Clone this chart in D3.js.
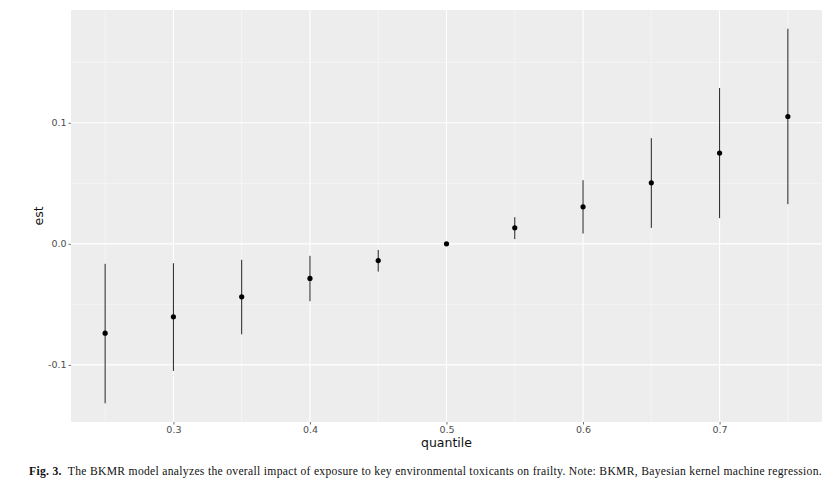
<html>
<head>
<script src="https://d3js.org/d3.v7.min.js"></script>
<style>
  body { margin: 0; background: #fff; }
</style>
</head>
<body>
<svg id="chart" width="838" height="485"></svg>
<script>
// values
const quantiles = [0.25, 0.30, 0.35, 0.40, 0.45, 0.50, 0.55, 0.60, 0.65, 0.70, 0.75];
const est       = [-0.0738, -0.0603, -0.0438, -0.0286, -0.0138, 0.0, 0.0132, 0.0306, 0.0504, 0.0750, 0.1052];
const lower     = [-0.1317, -0.1050, -0.0747, -0.0474, -0.0229, -0.0005, 0.0039, 0.0085, 0.0132, 0.0212, 0.0328];
const upper     = [-0.0165, -0.0160, -0.0132, -0.0099, -0.0050, 0.0005, 0.0220, 0.0526, 0.0873, 0.1287, 0.1777];
const xTicks = [0.3, 0.4, 0.5, 0.6, 0.7];
const yTicks = [-0.1, 0.0, 0.1];
const xMinor = [0.25, 0.35, 0.45, 0.55, 0.65, 0.75];
const yMinor = [-0.05, 0.05, 0.15];

const panel = {left: 71, top: 10, right: 822, bottom: 422};
const svg = d3.select("#chart");

// ggplot style 5% expansion
const xr = d3.extent(quantiles), xPad = (xr[1] - xr[0]) * 0.05;
const yr = [d3.min(lower), d3.max(upper)], yPad = (yr[1] - yr[0]) * 0.05;

const x = d3.scaleLinear().domain([xr[0] - xPad, xr[1] + xPad]).range([panel.left, panel.right]);
const y = d3.scaleLinear().domain([yr[0] - yPad, yr[1] + yPad]).range([panel.bottom, panel.top]);

svg.append("rect")
  .attr("x", panel.left).attr("y", panel.top)
  .attr("width", panel.right - panel.left).attr("height", panel.bottom - panel.top)
  .attr("fill", "#ededed");

const grid = svg.append("g");
grid.selectAll(".xm").data(xMinor).enter().append("line")
  .attr("x1", d => x(d)).attr("x2", d => x(d))
  .attr("y1", panel.top).attr("y2", panel.bottom)
  .attr("stroke", "#fafafa").attr("stroke-width", 0.6);
grid.selectAll(".ym").data(yMinor.filter(d => y(d) > panel.top && y(d) < panel.bottom)).enter().append("line")
  .attr("y1", d => y(d)).attr("y2", d => y(d))
  .attr("x1", panel.left).attr("x2", panel.right)
  .attr("stroke", "#fafafa").attr("stroke-width", 0.6);
grid.selectAll(".xM").data(xTicks).enter().append("line")
  .attr("x1", d => x(d)).attr("x2", d => x(d))
  .attr("y1", panel.top).attr("y2", panel.bottom)
  .attr("stroke", "#ffffff").attr("stroke-width", 1.1);
grid.selectAll(".yM").data(yTicks).enter().append("line")
  .attr("y1", d => y(d)).attr("y2", d => y(d))
  .attr("x1", panel.left).attr("x2", panel.right)
  .attr("stroke", "#ffffff").attr("stroke-width", 1.1);

// axes
const xAxis = svg.append("g")
  .attr("transform", "translate(0," + panel.bottom + ")")
  .call(d3.axisBottom(x).tickValues(xTicks).tickSize(2.5).tickPadding(2).tickFormat(d3.format(".1f")));
const yAxis = svg.append("g")
  .attr("transform", "translate(" + panel.left + ",0)")
  .call(d3.axisLeft(y).tickValues(yTicks).tickSize(2.5).tickPadding(2).tickFormat(d => d3.format(".1f")(d).replace("−", "-")));
[xAxis, yAxis].forEach(a => {
  a.select(".domain").remove();
  a.selectAll(".tick line").attr("stroke", "#4d4d4d").attr("stroke-width", 0.8);
  a.selectAll(".tick text").attr("fill", "#4d4d4d")
    .style("font-family", "DejaVu Sans").style("font-size", "9.5px");
});

// error bars
const bars = svg.append("g");
bars.selectAll("line").data(quantiles).enter().append("line")
  .attr("x1", d => x(d)).attr("x2", d => x(d))
  .attr("y1", (d, i) => y(lower[i])).attr("y2", (d, i) => y(upper[i]))
  .attr("stroke", "#222").attr("stroke-width", 1);
bars.selectAll("circle").data(quantiles).enter().append("circle")
  .attr("cx", d => x(d)).attr("cy", (d, i) => y(est[i]))
  .attr("r", 2.6).attr("fill", "#000");

// titles
svg.append("text")
  .attr("x", (panel.left + panel.right) / 2).attr("y", 447)
  .attr("text-anchor", "middle")
  .style("font-family", "DejaVu Sans").style("font-size", "12.5px").attr("fill", "#111")
  .text("quantile");
svg.append("text")
  .attr("transform", "translate(43," + (panel.top + panel.bottom) / 2 + ") rotate(-90)")
  .attr("text-anchor", "middle")
  .style("font-family", "DejaVu Sans").style("font-size", "12.5px").attr("fill", "#111")
  .text("est");

// caption, stretched to the width it takes in the figure
const cap = svg.append("text")
  .attr("x", 29).attr("y", 475)
  .style("font-family", "Liberation Serif").style("font-size", "11.6px").attr("fill", "#111");
cap.append("tspan").style("font-weight", "bold").text("Fig. 3.");
cap.append("tspan").attr("dx", 6)
  .text("The BKMR model analyzes the overall impact of exposure to key environmental toxicants on frailty. Note: BKMR, Bayesian kernel machine regression.");
const capLen = cap.node().getComputedTextLength() + 6;
const nChars = cap.text().length;
cap.style("letter-spacing", ((822 - 29 - capLen) / nChars) + "px");
</script>
</body>
</html>
